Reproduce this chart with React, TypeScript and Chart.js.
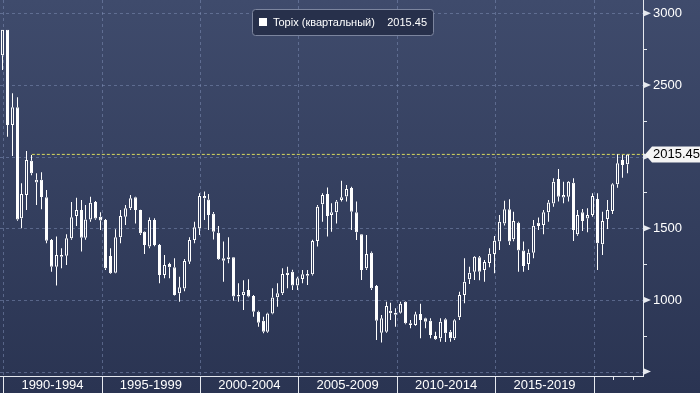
import React, { useEffect, useRef } from 'react';
import { Chart, registerables } from 'chart.js';

Chart.register(...registerables);

// ---- data (quarterly Topix candles) ----
const quarters = [
  '1989 Q4',
  '1990 Q1', '1990 Q2', '1990 Q3', '1990 Q4',
  '1991 Q1', '1991 Q2', '1991 Q3', '1991 Q4',
  '1992 Q1', '1992 Q2', '1992 Q3', '1992 Q4',
  '1993 Q1', '1993 Q2', '1993 Q3', '1993 Q4',
  '1994 Q1', '1994 Q2', '1994 Q3', '1994 Q4',
  '1995 Q1', '1995 Q2', '1995 Q3', '1995 Q4',
  '1996 Q1', '1996 Q2', '1996 Q3', '1996 Q4',
  '1997 Q1', '1997 Q2', '1997 Q3', '1997 Q4',
  '1998 Q1', '1998 Q2', '1998 Q3', '1998 Q4',
  '1999 Q1', '1999 Q2', '1999 Q3', '1999 Q4',
  '2000 Q1', '2000 Q2', '2000 Q3', '2000 Q4',
  '2001 Q1', '2001 Q2', '2001 Q3', '2001 Q4',
  '2002 Q1', '2002 Q2', '2002 Q3', '2002 Q4',
  '2003 Q1', '2003 Q2', '2003 Q3', '2003 Q4',
  '2004 Q1', '2004 Q2', '2004 Q3', '2004 Q4',
  '2005 Q1', '2005 Q2', '2005 Q3', '2005 Q4',
  '2006 Q1', '2006 Q2', '2006 Q3', '2006 Q4',
  '2007 Q1', '2007 Q2', '2007 Q3', '2007 Q4',
  '2008 Q1', '2008 Q2', '2008 Q3', '2008 Q4',
  '2009 Q1', '2009 Q2', '2009 Q3', '2009 Q4',
  '2010 Q1', '2010 Q2', '2010 Q3', '2010 Q4',
  '2011 Q1', '2011 Q2', '2011 Q3', '2011 Q4',
  '2012 Q1', '2012 Q2', '2012 Q3', '2012 Q4',
  '2013 Q1', '2013 Q2', '2013 Q3', '2013 Q4',
  '2014 Q1', '2014 Q2', '2014 Q3', '2014 Q4',
  '2015 Q1', '2015 Q2', '2015 Q3', '2015 Q4',
  '2016 Q1', '2016 Q2', '2016 Q3', '2016 Q4',
  '2017 Q1', '2017 Q2', '2017 Q3', '2017 Q4',
  '2018 Q1', '2018 Q2', '2018 Q3', '2018 Q4',
  '2019 Q1', '2019 Q2', '2019 Q3', '2019 Q4',
  '2020 Q1', '2020 Q2', '2020 Q3', '2020 Q4',
  '2021 Q1', '2021 Q2', '2021 Q3',
];

const openValues = [
  2707,
  2886, 2221, 2344, 1570,
  1732, 1971, 1819, 1838,
  1716, 1418, 1232, 1301,
  1309, 1430, 1585, 1627,
  1434, 1562, 1684, 1580,
  1558, 1306, 1190, 1437,
  1580, 1639, 1716, 1627,
  1476, 1372, 1558, 1383,
  1174, 1250, 1228, 1046,
  1080, 1267, 1418, 1500,
  1726, 1700, 1602, 1469,
  1290, 1283, 1297, 1034,
  1034, 1069, 1027, 918,
  855, 778, 905, 1018,
  1046, 1190, 1197, 1100,
  1146, 1181, 1179, 1411,
  1667, 1739, 1592, 1611,
  1697, 1721, 1781, 1611,
  1458, 1221, 1330, 1097,
  771, 778, 925, 911,
  911, 988, 837, 825,
  902, 872, 855, 748,
  732, 865, 778, 732,
  879, 1034, 1144, 1197,
  1297, 1209, 1258, 1320,
  1407, 1534, 1632, 1423,
  1539, 1344, 1251, 1330,
  1539, 1523, 1611, 1672,
  1844, 1714, 1720, 1818,
  1458, 1611, 1569, 1593,
  1704, 1388, 1565, 1620,
  1807, 1976, 1946,
];

const highValues = [
  2886,
  2886, 2442, 2414, 1814,
  2039, 2011, 1884, 1891,
  1767, 1425, 1442, 1360,
  1458, 1684, 1713, 1697,
  1662, 1720, 1690, 1611,
  1565, 1360, 1493, 1627,
  1662, 1732, 1720, 1630,
  1480, 1576, 1570, 1390,
  1313, 1260, 1290, 1162,
  1285, 1437, 1546, 1744,
  1756, 1739, 1613, 1516,
  1407, 1437, 1300, 1116,
  1137, 1144, 1035, 925,
  883, 910, 1081, 1116,
  1221, 1232, 1210, 1162,
  1209, 1209, 1420, 1662,
  1744, 1785, 1674, 1697,
  1831, 1802, 1790, 1686,
  1460, 1453, 1337, 1104,
  895, 988, 981, 941,
  988, 990, 860, 918,
  974, 875, 872, 778,
  872, 872, 790, 865,
  1057, 1290, 1232, 1306,
  1306, 1279, 1360, 1446,
  1593, 1692, 1702, 1616,
  1546, 1407, 1353, 1558,
  1576, 1627, 1697, 1849,
  1914, 1825, 1830, 1849,
  1627, 1634, 1639, 1744,
  1744, 1616, 1697, 1815,
  2016, 2011, 2015.45,
];

const lowValues = [
  2605,
  2139, 2004, 1553, 1500,
  1627, 1870, 1662, 1632,
  1395, 1197, 1100, 1221,
  1244, 1420, 1516, 1337,
  1420, 1545, 1560, 1488,
  1209, 1180, 1186, 1395,
  1523, 1627, 1534, 1453,
  1320, 1360, 1375, 1116,
  1151, 1151, 1030, 988,
  1060, 1250, 1395, 1453,
  1558, 1488, 1421, 1279,
  1127, 1256, 995, 988,
  930, 1018, 883, 813,
  767, 770, 900, 953,
  1034, 1081, 1069, 1069,
  1116, 1104, 1170, 1372,
  1546, 1442, 1476, 1534,
  1686, 1686, 1488, 1418,
  1139, 1209, 1069, 720,
  702, 770, 860, 813,
  905, 830, 802, 820,
  732, 802, 732, 720,
  708, 706, 708, 720,
  860, 976, 1111, 1139,
  1137, 1127, 1228, 1186,
  1348, 1520, 1383, 1410,
  1197, 1197, 1209, 1290,
  1488, 1458, 1546, 1651,
  1686, 1674, 1686, 1411,
  1448, 1481, 1472, 1580,
  1209, 1313, 1495, 1600,
  1783, 1853, 1884,
];

const closeValues = [
  2886,
  2221, 2344, 1562, 1739,
  1976, 1884, 1838, 1718,
  1413, 1232, 1313, 1313,
  1430, 1577, 1627, 1434,
  1562, 1678, 1569, 1555,
  1221, 1186, 1437, 1585,
  1639, 1709, 1627, 1465,
  1383, 1558, 1383, 1174,
  1244, 1228, 1035, 1088,
  1272, 1418, 1507, 1726,
  1709, 1592, 1476, 1283,
  1274, 1297, 1023, 1023,
  1057, 1023, 918, 841,
  778, 905, 1016, 1046,
  1181, 1174, 1100, 1151,
  1179, 1169, 1411, 1651,
  1732, 1585, 1611, 1686,
  1716, 1774, 1616, 1472,
  1209, 1320, 1081, 855,
  872, 958, 907, 897,
  974, 837, 825, 900,
  860, 848, 755, 725,
  848, 767, 732, 858,
  1034, 1127, 1190, 1302,
  1197, 1265, 1323, 1413,
  1546, 1632, 1407, 1551,
  1344, 1237, 1330, 1518,
  1516, 1611, 1679, 1825,
  1720, 1732, 1825, 1488,
  1593, 1551, 1593, 1725,
  1395, 1551, 1627, 1807,
  1953, 1941, 2015.45,
];

const seriesName = 'Topix (квартальный)';
const lastPrice = 2015.45;
const lastLevelFromIndex = 6;

const yTickValues = [500, 750, 1000, 1250, 1500, 1750, 2000, 2250, 2500, 2750, 3000];
const yLabelValues = [3000, 2500, 1500, 1000];
const periodLabels = ['1990-1994', '1995-1999', '2000-2004', '2005-2009', '2010-2014', '2015-2019'];
const periodBoundaries = [0.2, 20.2, 40.2, 60.2, 80.2, 100.2, 120.2];
const minorYearTicks = [124.2, 128.2];

// ---- styling ----
const X_MIN = -0.47;
const X_MAX = 130.22;
const Y_MIN = 469;
const Y_MAX = 3093;
const FONT = '"Liberation Sans", Arial, sans-serif';
const GRID = 'rgba(130,145,185,0.5)';
const AXIS = '#e6e9ef';

const decorPlugin = {
  id: 'decor',
  beforeDraw(chart: any) {
    const { ctx, width, height } = chart;
    const g = ctx.createLinearGradient(0, 0, 0, height);
    g.addColorStop(0, '#3f4b6c');
    g.addColorStop(1, '#2a3452');
    ctx.save();
    ctx.fillStyle = g;
    ctx.fillRect(0, 0, width, height);
    ctx.restore();
  },
  beforeDatasetsDraw(chart: any) {
    const { ctx, chartArea: a, scales } = chart;
    const x = scales.x;
    const y = scales.y;
    // snap candle elements to whole pixels for crisp 1px / 3px columns
    chart.data.datasets.forEach((ds: any, i: number) => {
      if (ds.type === 'line') return;
      chart.getDatasetMeta(i).data.forEach((el: any) => {
        el.x = Math.floor(el.x) + 0.5;
      });
    });
    ctx.save();
    ctx.strokeStyle = GRID;
    ctx.lineWidth = 1;
    ctx.setLineDash([3, 3]);
    yTickValues.filter((v) => v % 500 === 0).forEach((v) => {
      const py = Math.round(y.getPixelForValue(v)) + 0.5;
      ctx.beginPath();
      ctx.moveTo(a.left, py);
      ctx.lineTo(a.right, py);
      ctx.stroke();
    });
    periodBoundaries.forEach((q) => {
      const px = Math.round(x.getPixelForValue(q)) + 0.5;
      ctx.beginPath();
      ctx.moveTo(px, a.top);
      ctx.lineTo(px, a.bottom);
      ctx.stroke();
    });
    ctx.restore();
  },
  afterDraw(chart: any) {
    const { ctx, chartArea: a, scales, width, height } = chart;
    const x = scales.x;
    const y = scales.y;
    ctx.save();
    // axis lines
    ctx.strokeStyle = AXIS;
    ctx.lineWidth = 1;
    ctx.beginPath();
    ctx.moveTo(a.right + 0.5, a.top);
    ctx.lineTo(a.right + 0.5, a.bottom + 1);
    ctx.moveTo(a.left, a.bottom + 0.5);
    ctx.lineTo(a.right + 1, a.bottom + 0.5);
    ctx.stroke();

    // right axis ticks
    ctx.fillStyle = AXIS;
    yTickValues.forEach((v) => {
      const py = y.getPixelForValue(v);
      if (v % 500 === 0) {
        ctx.beginPath();
        ctx.moveTo(a.right + 1, py - 3);
        ctx.lineTo(a.right + 8, py);
        ctx.lineTo(a.right + 1, py + 3);
        ctx.closePath();
        ctx.fill();
      } else {
        const ry = Math.round(py) + 0.5;
        ctx.beginPath();
        ctx.moveTo(a.right, ry);
        ctx.lineTo(a.right + 4, ry);
        ctx.stroke();
      }
    });

    // y labels
    ctx.fillStyle = '#ffffff';
    ctx.font = `13px ${FONT}`;
    ctx.textAlign = 'left';
    ctx.textBaseline = 'middle';
    yLabelValues.forEach((v) => {
      ctx.fillText(String(v), a.right + 10, y.getPixelForValue(v) + 0.5);
    });

    // bottom separators and period labels
    periodBoundaries.forEach((q) => {
      const px = Math.round(x.getPixelForValue(q)) + 0.5;
      ctx.beginPath();
      ctx.moveTo(px, a.bottom);
      ctx.lineTo(px, height);
      ctx.stroke();
    });
    minorYearTicks.forEach((q) => {
      const px = Math.round(x.getPixelForValue(q)) + 0.5;
      ctx.beginPath();
      ctx.moveTo(px, a.bottom);
      ctx.lineTo(px, a.bottom + 4);
      ctx.stroke();
    });
    ctx.textAlign = 'center';
    periodLabels.forEach((label, i) => {
      const cx = (x.getPixelForValue(periodBoundaries[i]) + x.getPixelForValue(periodBoundaries[i + 1])) / 2;
      ctx.fillText(label, cx, a.bottom + 9.5);
    });

    // last price tag
    const py = y.getPixelForValue(lastPrice);
    ctx.fillStyle = '#f4f4f4';
    ctx.beginPath();
    ctx.moveTo(a.right + 2, py);
    ctx.lineTo(a.right + 9, py - 8);
    ctx.lineTo(width, py - 8);
    ctx.lineTo(width, py + 8);
    ctx.lineTo(a.right + 9, py + 8);
    ctx.closePath();
    ctx.fill();
    ctx.fillStyle = '#000000';
    ctx.textAlign = 'left';
    ctx.font = `13px ${FONT}`;
    ctx.fillText(lastPrice.toFixed(2), a.right + 10, py + 0.5);

    // legend
    const lx = 252.5, ly = 9.5, lw = 181, lh = 26, r = 3;
    ctx.beginPath();
    ctx.moveTo(lx + r, ly);
    ctx.lineTo(lx + lw - r, ly);
    ctx.arcTo(lx + lw, ly, lx + lw, ly + r, r);
    ctx.lineTo(lx + lw, ly + lh - r);
    ctx.arcTo(lx + lw, ly + lh, lx + lw - r, ly + lh, r);
    ctx.lineTo(lx + r, ly + lh);
    ctx.arcTo(lx, ly + lh, lx, ly + lh - r, r);
    ctx.lineTo(lx, ly + r);
    ctx.arcTo(lx, ly, lx + r, ly, r);
    ctx.closePath();
    ctx.fillStyle = '#27304b';
    ctx.fill();
    ctx.strokeStyle = '#7c859e';
    ctx.stroke();
    ctx.fillStyle = '#ffffff';
    ctx.fillRect(259, 18, 8, 8);
    ctx.font = `11px ${FONT}`;
    ctx.textAlign = 'left';
    ctx.fillText(seriesName, 273, 22.5);
    ctx.textAlign = 'right';
    ctx.fillText(lastPrice.toFixed(2), 427, 22.5);
    ctx.restore();
  },
};

export default function App() {
  const ref = useRef<HTMLCanvasElement>(null);
  useEffect(() => {
    const upperWicks = quarters.map((_, i) => ({ x: i, y: [Math.max(openValues[i], closeValues[i]), highValues[i]] }));
    const lowerWicks = quarters.map((_, i) => ({ x: i, y: [lowValues[i], Math.min(openValues[i], closeValues[i])] }));
    const bodies = quarters.map((_, i) => ({ x: i, y: [Math.min(openValues[i], closeValues[i]), Math.max(openValues[i], closeValues[i])] }));
    const bodyFill = quarters.map((_, i) => (closeValues[i] >= openValues[i] ? 'rgba(0,0,0,0)' : '#ffffff'));

    const chart = new Chart(ref.current as HTMLCanvasElement, {
      type: 'bar',
      data: {
        datasets: [
          {
            type: 'line',
            data: [
              { x: lastLevelFromIndex, y: lastPrice },
              { x: X_MAX, y: lastPrice },
            ],
            borderColor: '#d9db5c',
            borderWidth: 1,
            borderDash: [3, 2],
            pointRadius: 0,
            order: 5,
          } as any,
          {
            data: bodies as any,
            backgroundColor: bodyFill,
            borderColor: '#ffffff',
            borderWidth: 1,
            borderSkipped: false,
            barThickness: 3,
            grouped: false,
            inflateAmount: 0,
            order: 1,
          } as any,
          {
            data: upperWicks as any,
            backgroundColor: '#ffffff',
            borderWidth: 0,
            barThickness: 1,
            grouped: false,
            inflateAmount: 0,
            order: 2,
          } as any,
          {
            data: lowerWicks as any,
            backgroundColor: '#ffffff',
            borderWidth: 0,
            barThickness: 1,
            grouped: false,
            inflateAmount: 0,
            order: 3,
          } as any,
        ],
      },
      options: {
        animation: false,
        responsive: false,
        devicePixelRatio: 1,
        layout: { padding: 0 },
        plugins: {
          legend: { display: false },
          tooltip: { enabled: false },
        },
        scales: {
          x: {
            type: 'linear',
            offset: false,
            min: X_MIN,
            max: X_MAX,
            position: 'bottom',
            grid: { display: false, offset: false },
            border: { display: false },
            ticks: { display: false },
            afterFit: (s: any) => {
              s.height = 17;
            },
          },
          y: {
            type: 'linear',
            position: 'right',
            min: Y_MIN,
            max: Y_MAX,
            grid: { display: false },
            border: { display: false },
            ticks: { display: false },
            afterFit: (s: any) => {
              s.width = 57;
            },
          },
        },
      } as any,
      plugins: [decorPlugin],
    });
    return () => chart.destroy();
  }, []);

  return (
    <div style={{ position: 'fixed', left: 0, top: 0, width: 700, height: 393 }}>
      <canvas ref={ref} width={700} height={393} style={{ display: 'block', width: 700, height: 393 }} />
    </div>
  );
}
